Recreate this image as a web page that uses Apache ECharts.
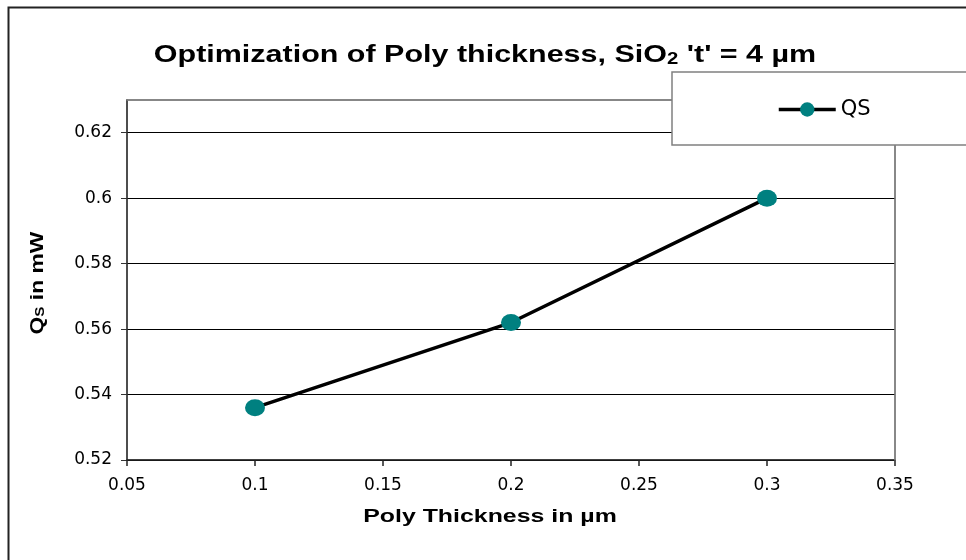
<!DOCTYPE html>
<html>
<head>
<meta charset="utf-8">
<script src="https://cdn.jsdelivr.net/npm/echarts@6/dist/echarts.min.js"></script>
<style>html,body{margin:0;padding:0;background:#fff}#c{width:966px;height:560px}</style>
</head>
<body>
<div id="c"></div>
<script>
var xValues = [0.1, 0.2, 0.3];
var qsValues = [0.536, 0.562, 0.600];
var yTicks = [0.52, 0.54, 0.56, 0.58, 0.6, 0.62];
var xTicks = [0.05, 0.1, 0.15, 0.2, 0.25, 0.3, 0.35];
var seriesName = 'QS';

var FONT = '"Liberation Sans", Arial, sans-serif';
var TICKFONT = '"DejaVu Sans", "Liberation Sans", sans-serif';
var chart = echarts.init(document.getElementById('c'), null, {renderer: 'canvas'});
var data = xValues.map(function (x, i) { return [x, qsValues[i]]; });

chart.setOption({
  backgroundColor: '#fff',
  animation: false,
  grid: { left: 127, right: 71, top: 100, bottom: 100, show: true, borderColor: '#808080', borderWidth: 1.5, backgroundColor: '#fff' },
  xAxis: [{
    type: 'value', min: 0.05, max: 0.35, interval: 0.05,
    axisLine: { show: true, onZero: false, lineStyle: { color: '#222', width: 1.5 } },
    axisTick: { show: true, inside: false, length: 6, lineStyle: { color: '#222', width: 1.5 } },
    axisLabel: { margin: 17, fontFamily: TICKFONT, fontSize: 17, color: '#000', customValues: xTicks },
    splitLine: { show: false }
  }, {
    type: 'value', position: 'top', min: 0.05, max: 0.35, z: 5,
    axisLine: { show: true, onZero: false, lineStyle: { color: '#808080', width: 1.5 } },
    axisTick: { show: false }, axisLabel: { show: false }, splitLine: { show: false }
  }],
  yAxis: [{
    type: 'value', min: 0.52, max: 0.63, interval: 0.02,
    axisLine: { show: true, onZero: false, lineStyle: { color: '#333', width: 1.5 } },
    axisTick: { show: true, inside: false, length: 6, lineStyle: { color: '#333', width: 1 }, customValues: yTicks },
    axisLabel: { margin: 15, fontFamily: TICKFONT, fontSize: 17, color: '#000', customValues: yTicks },
    splitLine: { show: true, lineStyle: { color: '#000', width: 1 } }
  }, {
    type: 'value', position: 'right', min: 0.52, max: 0.63, z: 5,
    axisLine: { show: true, onZero: false, lineStyle: { color: '#808080', width: 1.5 } },
    axisTick: { show: false }, axisLabel: { show: false }, splitLine: { show: false }
  }],
  legend: {
    data: [seriesName], left: 777, top: 99, z: 30, padding: 0,
    itemWidth: 57, itemHeight: 18, itemGap: 5,
    lineStyle: { width: 3.5, color: '#000' },
    textStyle: { fontFamily: TICKFONT, fontSize: 21, color: '#000', padding: [0, 0, 0, 0] }
  },
  graphic: [
    { type: 'rect', z: 20, shape: { x: 672, y: 72, width: 400, height: 73 }, style: { fill: '#fff', stroke: '#808080', lineWidth: 1.5 } },
    { type: 'rect', z: 25, silent: true, shape: { x: 8.5, y: 7.5, width: 1000, height: 600 }, style: { fill: 'none', stroke: '#222', lineWidth: 2 } },
    { type: 'text', z: 25, x: 485, y: 55, scaleX: 1.27, style: {
      text: '{t|Optimization of Poly thickness, SiO}{sub|2}{t| \'t\' = 4 µm}', align: 'center', verticalAlign: 'middle',
      rich: { t: { fontFamily: FONT, fontSize: 24, fontWeight: 'bold', fill: '#000' },
              sub: { fontFamily: FONT, fontSize: 16, fontWeight: 'bold', fill: '#000', padding: [10, 0, 0, 0] } } } },
    { type: 'text', z: 25, x: 490, y: 517, scaleX: 1.31, style: { text: 'Poly Thickness in µm', fill: '#000', font: 'bold 19px "Liberation Sans", Arial, sans-serif', align: 'center', verticalAlign: 'middle' } },
    { type: 'text', z: 25, x: 38, y: 283, rotation: Math.PI / 2, scaleX: 1.27, style: {
      text: '{m|Q}{s|S}{m| in mW}', align: 'center', verticalAlign: 'middle',
      rich: { m: { fontFamily: FONT, fontSize: 18, fontWeight: 'bold', fill: '#000' },
              s: { fontFamily: FONT, fontSize: 12, fontWeight: 'bold', fill: '#000', padding: [6, 0, 0, 0] } } } }
  ],
  series: [{
    name: seriesName, type: 'line', data: data, xAxisIndex: 0, yAxisIndex: 0,
    symbol: 'circle', symbolSize: [20, 17], z: 10,
    lineStyle: { color: '#000', width: 3.5 },
    itemStyle: { color: '#008080' }
  }]
});
</script>
</body>
</html>
